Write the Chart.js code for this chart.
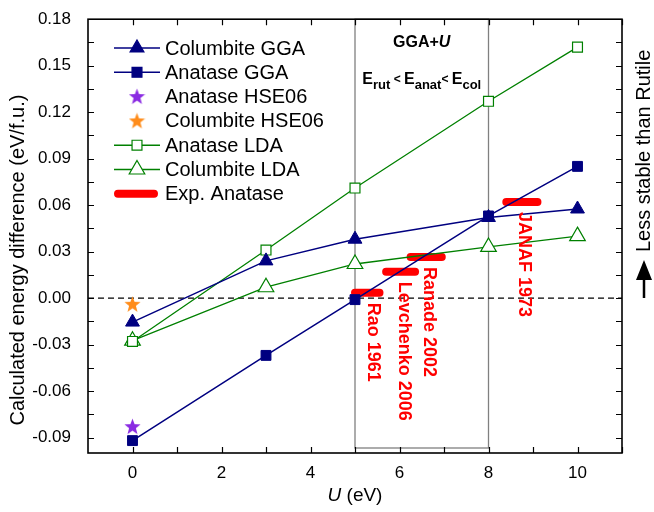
<!DOCTYPE html>
<html>
<head>
<meta charset="utf-8">
<script src="https://cdn.jsdelivr.net/npm/chart.js@4.4.1/dist/chart.umd.min.js"></script>
<style>
  html, body { margin: 0; padding: 0; background: #fff; }
  #wrap { width: 654px; height: 512px; }
</style>
</head>
<body>
<div id="wrap"><canvas id="grafico" width="654" height="512"></canvas></div>
<script>
// valores
const uValores = [0, 3, 5, 8, 10];
const columbiteGGA = [-0.0155, 0.024, 0.038, 0.052, 0.0575];
const anataseGGA = [-0.092, -0.037, -0.001, 0.053, 0.085];
const anataseLDA = [-0.028, 0.031, 0.071, 0.127, 0.162];
const columbiteLDA = [-0.0275, 0.007, 0.022, 0.033, 0.040];
const anataseHSE06 = [-0.083];
const columbiteHSE06 = [-0.004];

const expNomes = ["Rao 1961", "Levchenko 2006", "Ranade 2002", "JANAF 1973"];
const expInicio = [5.0, 5.7, 6.25, 8.4];
const expFim = [5.55, 6.35, 6.95, 9.1];
const expValores = [0.0035, 0.017, 0.0265, 0.062];

const yTicks = [-0.09, -0.06, -0.03, 0.00, 0.03, 0.06, 0.09, 0.12, 0.15, 0.18];
const xTicks = [0, 2, 4, 6, 8, 10];

const FONTE = "'Liberation Sans', Arial, sans-serif";
const NAVY = "#000080";
const VERDE = "#008000";
const VERMELHO = "#ff0000";

function estrela(cor, tam) {
  const c = document.createElement("canvas");
  c.width = tam; c.height = tam;
  const g = c.getContext("2d");
  const cx = tam / 2, cy = tam / 2 + 0.5, R = tam / 2, r = R * 0.42;
  g.beginPath();
  for (let i = 0; i < 10; i++) {
    const ang = -Math.PI / 2 + i * Math.PI / 5;
    const rr = i % 2 === 0 ? R : r;
    g.lineTo(cx + rr * Math.cos(ang), cy + rr * Math.sin(ang));
  }
  g.closePath();
  g.fillStyle = cor;
  g.fill();
  return c;
}
const estrelaRoxa = estrela("#8a2be2", 17);
const estrelaLaranja = estrela("#ff8c1a", 17);

function pares(xs, ys) {
  return ys.map((y, i) => ({ x: xs[i], y: y }));
}

const datasets = [
  { label: "Columbite GGA", data: pares(uValores, columbiteGGA), borderColor: NAVY, backgroundColor: NAVY,
    borderWidth: 1.5, pointStyle: "triangle", pointRadius: 8, pointBorderWidth: 1 },
  { label: "Anatase GGA", data: pares(uValores, anataseGGA), borderColor: NAVY, backgroundColor: NAVY,
    borderWidth: 1.5, pointStyle: "rect", pointRadius: 7, pointBorderWidth: 1 },
  { label: "Anatase HSE06", data: pares([0], anataseHSE06), pointStyle: estrelaRoxa, showLine: false,
    borderColor: "#8a2be2", backgroundColor: "#8a2be2" },
  { label: "Columbite HSE06", data: pares([0], columbiteHSE06), pointStyle: estrelaLaranja, showLine: false,
    borderColor: "#ff8c1a", backgroundColor: "#ff8c1a" },
  { label: "Anatase LDA", data: pares(uValores, anataseLDA), borderColor: VERDE, backgroundColor: "#fff",
    borderWidth: 1.3, pointStyle: "rect", pointRadius: 7, pointBorderWidth: 1.2 },
  { label: "Columbite LDA", data: pares(uValores, columbiteLDA), borderColor: VERDE, backgroundColor: "#fff",
    borderWidth: 1.3, pointStyle: "triangle", pointRadius: 9, pointBorderWidth: 1.2 }
];

// barras experimentais
expNomes.forEach((nome, i) => {
  datasets.push({
    label: nome,
    data: [{ x: expInicio[i], y: expValores[i] }, { x: expFim[i], y: expValores[i] }],
    borderColor: VERMELHO, borderWidth: 8, borderCapStyle: "round", pointRadius: 0, showLine: true
  });
});

// caixa GGA+U, linha tracejada, rotulos e eixos desenhados a mao
const extras = {
  id: "extras",
  beforeDatasetsDraw(chart) {
    const { ctx, chartArea: a, scales: { x, y } } = chart;
    ctx.save();
    const x5 = x.getPixelForValue(5), x8 = x.getPixelForValue(8);
    ctx.strokeStyle = "#808080";
    ctx.lineWidth = 1.3;
    ctx.strokeRect(x5, a.top, x8 - x5, a.bottom - 5 - a.top);
    const y0 = y.getPixelForValue(0);
    ctx.strokeStyle = "#000";
    ctx.lineWidth = 1.3;
    ctx.setLineDash([6, 4]);
    ctx.beginPath();
    ctx.moveTo(a.left, y0);
    ctx.lineTo(a.right, y0);
    ctx.stroke();
    ctx.restore();
  },
  afterDraw(chart) {
    const { ctx, chartArea: a, scales: { x, y } } = chart;
    ctx.save();

    // moldura
    ctx.strokeStyle = "#000";
    ctx.lineWidth = 1.6;
    ctx.strokeRect(a.left, a.top, a.right - a.left, a.bottom - a.top);

    // ticks para dentro
    ctx.lineWidth = 1.2;
    ctx.beginPath();
    for (let v = -0.09; v <= 0.1801; v += 0.015) {
      const py = Math.round(y.getPixelForValue(v)) + 0.5;
      ctx.moveTo(a.left, py); ctx.lineTo(a.left + 6, py);
      ctx.moveTo(a.right, py); ctx.lineTo(a.right - 6, py);
    }
    for (let v = 0; v <= 11; v += 1) {
      const px = Math.round(x.getPixelForValue(v)) + 0.5;
      ctx.moveTo(px, a.bottom); ctx.lineTo(px, a.bottom - 6);
      ctx.moveTo(px, a.top); ctx.lineTo(px, a.top + 6);
    }
    ctx.stroke();

    // textos da caixa
    const xc = (x.getPixelForValue(5) + x.getPixelForValue(8)) / 2;
    ctx.fillStyle = "#000";
    ctx.textBaseline = "alphabetic";
    ctx.textAlign = "left";
    const t1 = "GGA+";
    ctx.font = "bold 16px " + FONTE;
    const w1 = ctx.measureText(t1).width;
    ctx.font = "italic bold 16px " + FONTE;
    const w2 = ctx.measureText("U").width;
    let sx = xc - (w1 + w2) / 2;
    ctx.font = "bold 16px " + FONTE;
    ctx.fillText(t1, sx, 47);
    ctx.font = "italic bold 16px " + FONTE;
    ctx.fillText("U", sx + w1, 47);

    const partes = [
      ["E", 16, 0], ["rut", 13, 5], [" < ", 12, -1], ["E", 16, 0], ["anat", 13, 5], ["< ", 12, -1], ["E", 16, 0], ["col", 13, 5]
    ];
    let total = 0;
    partes.forEach(p => { ctx.font = "bold " + p[1] + "px " + FONTE; total += ctx.measureText(p[0]).width; });
    sx = xc - total / 2;
    partes.forEach(p => {
      ctx.font = "bold " + p[1] + "px " + FONTE;
      ctx.fillText(p[0], sx, 84 + p[2]);
      sx += ctx.measureText(p[0]).width;
    });

    // rotulos das medidas experimentais
    ctx.fillStyle = VERMELHO;
    ctx.font = "bold 18px " + FONTE;
    ctx.textAlign = "left";
    ctx.textBaseline = "middle";
    expNomes.forEach((nome, i) => {
      const px = x.getPixelForValue(expInicio[i]) + 18;
      const py = y.getPixelForValue(expValores[i]) + 10;
      ctx.save();
      ctx.translate(px, py);
      ctx.rotate(Math.PI / 2);
      ctx.fillText(nome, 0, 0);
      ctx.restore();
    });

    // legenda
    const linhas = [
      { t: "Columbite GGA", cor: NAVY, fundo: NAVY, estilo: "triangle", r: 8 },
      { t: "Anatase GGA", cor: NAVY, fundo: NAVY, estilo: "rect", r: 7 },
      { t: "Anatase HSE06", img: estrelaRoxa },
      { t: "Columbite HSE06", img: estrelaLaranja },
      { t: "Anatase LDA", cor: VERDE, fundo: "#fff", estilo: "rect", r: 7 },
      { t: "Columbite LDA", cor: VERDE, fundo: "#fff", estilo: "triangle", r: 9 },
      { t: "Exp. Anatase", barra: true }
    ];
    linhas.forEach((l, i) => {
      const ly = 48 + i * 24.3;
      const mx = 137;
      if (l.barra) {
        ctx.strokeStyle = VERMELHO;
        ctx.lineWidth = 8;
        ctx.lineCap = "round";
        ctx.beginPath(); ctx.moveTo(118, ly); ctx.lineTo(154, ly); ctx.stroke();
        ctx.lineCap = "butt";
      } else if (l.img) {
        ctx.drawImage(l.img, mx - l.img.width / 2, ly - l.img.height / 2);
      } else {
        ctx.strokeStyle = l.cor;
        ctx.lineWidth = 1.4;
        ctx.beginPath(); ctx.moveTo(114, ly); ctx.lineTo(160, ly); ctx.stroke();
        ctx.fillStyle = l.fundo;
        ctx.lineWidth = 1.2;
        Chart.helpers.drawPoint(ctx, { pointStyle: l.estilo, radius: l.r, rotation: 0, borderWidth: 1.2 }, mx, ly);
      }
      ctx.fillStyle = "#000";
      ctx.font = "20px " + FONTE;
      ctx.textAlign = "left";
      ctx.textBaseline = "middle";
      ctx.fillText(l.t, 165, ly + 1);
    });

    // titulos dos eixos
    ctx.fillStyle = "#000";
    ctx.font = "20px " + FONTE;
    ctx.textAlign = "center";
    ctx.textBaseline = "middle";
    ctx.save();
    ctx.translate(18, (a.top + a.bottom) / 2 + 24);
    ctx.rotate(-Math.PI / 2);
    ctx.fillText("Calculated energy difference (eV/f.u.)", 0, 0);
    ctx.restore();

    ctx.font = "italic 19px " + FONTE;
    const wu = ctx.measureText("U").width;
    ctx.font = "19px " + FONTE;
    const we = ctx.measureText(" (eV)").width;
    let tx = (a.left + a.right) / 2 - (wu + we) / 2;
    ctx.textAlign = "left";
    ctx.font = "italic 19px " + FONTE;
    ctx.fillText("U", tx, 496);
    ctx.font = "19px " + FONTE;
    ctx.fillText(" (eV)", tx + wu, 496);

    // lado direito
    ctx.font = "20px " + FONTE;
    ctx.textAlign = "left";
    ctx.save();
    ctx.translate(644, 252);
    ctx.rotate(-Math.PI / 2);
    ctx.fillText("Less stable than Rutile", 0, 0);
    ctx.restore();
    ctx.fillStyle = "#000";
    ctx.strokeStyle = "#000";
    ctx.lineWidth = 2.5;
    ctx.beginPath(); ctx.moveTo(644, 298); ctx.lineTo(644, 276); ctx.stroke();
    ctx.beginPath(); ctx.moveTo(644, 260); ctx.lineTo(636, 280); ctx.lineTo(652, 280); ctx.closePath(); ctx.fill();

    ctx.restore();
  }
};

new Chart(document.getElementById("grafico").getContext("2d"), {
  type: "line",
  data: { datasets: datasets },
  options: {
    responsive: false,
    animation: false,
    layout: { padding: { top: 18, right: 32, left: 0, bottom: 0 } },
    plugins: { legend: { display: false }, tooltip: { enabled: false }, title: { display: false } },
    scales: {
      x: {
        type: "linear", min: -1, max: 11,
        grid: { display: false }, border: { display: false },
        afterBuildTicks: s => { s.ticks = xTicks.map(v => ({ value: v })); },
        afterFit: s => { s.height = 59; },
        ticks: { color: "#000", padding: 2, font: { family: FONTE, size: 17 } }
      },
      y: {
        type: "linear", min: -0.10, max: 0.18,
        grid: { display: false }, border: { display: false },
        afterBuildTicks: s => { s.ticks = yTicks.map(v => ({ value: v })); },
        afterFit: s => { s.width = 88; },
        ticks: { color: "#000", padding: 9, font: { family: FONTE, size: 17 }, callback: v => v.toFixed(2) }
      }
    }
  },
  plugins: [extras]
});
</script>
</body>
</html>
